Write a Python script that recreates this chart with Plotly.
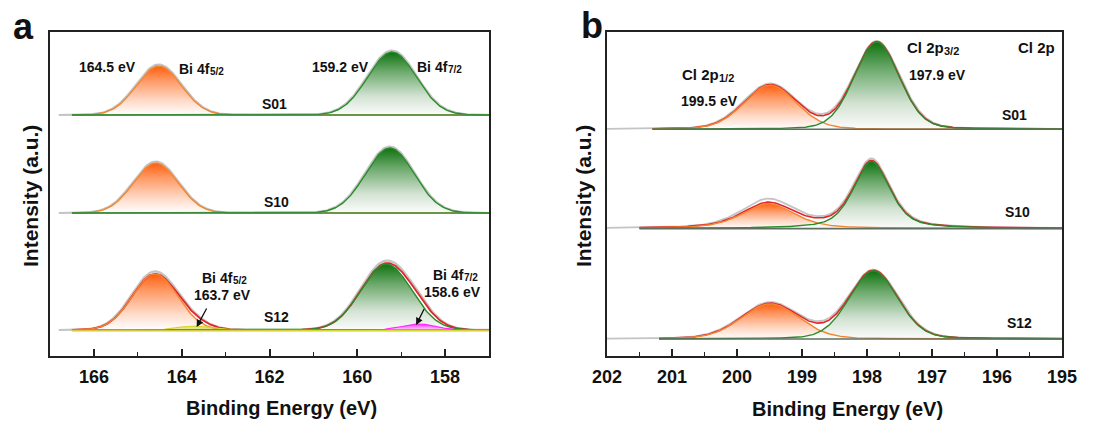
import numpy as np
import plotly.graph_objects as go

# ---------------- data ----------------
# Panel a: Bi 4f
a_samples = ["S01", "S10", "S12"]
a_base = [241, 143, 26]                  # baseline offsets
a_f52_center = [164.52, 164.59, 164.61]
a_f52_height = [49, 50, 56]
a_f52_fwhm = [1.2, 1.2, 1.22]
a_f72_center = [159.21, 159.26, 159.34]
a_f72_height = [63, 65, 66]
a_f72_fwhm = [1.3, 1.3, 1.36]
a_raw_extra = [1.5, 1.5, 2.5]            # raw data above fit at peaks
a_minor_center = [163.7, 158.6]          # S12 minor components
a_minor_height = [4, 6]
a_minor_fwhm = [0.9, 0.9]
a_fit_start = 166.5
a_raw_start = 166.8
a_end = 157.0

# Panel b: Cl 2p
b_samples = ["S01", "S10", "S12"]
b_base = [226, 127, 17]
b_p12_center = [199.49, 199.52, 199.49]
b_p12_height = [44, 25, 35]
b_p12_fwhm = [0.95, 0.95, 1.05]
b_p32_center = [197.85, 197.93, 197.90]
b_p32_height = [87, 67, 68]
b_p32_fwhm = [0.82, 0.66, 0.88]
b_eta = [0.15, 0.5, 0.15]                # lorentzian fraction
b_raw_extra = [1.0, 3.5, 1.0]
b_fit_start = [201.3, 201.5, 201.2]
b_raw_start = 202.0
b_end = 195.0

# ---------------- helpers ----------------
ORANGE_LINE = "#f2852f"
GREEN_LINE = "#2b8a2b"
RED = "#e3262b"
GRAY = "#c4c4c4"
BASE_G = "#3f8f3f"
OR_SCALE = [[0, "rgba(255,255,255,1)"], [0.3, "#ffd9c6"], [0.7, "#ff9a66"], [1, "#ff6010"]]
GR_SCALE = [[0, "rgba(252,252,252,1)"], [0.3, "#d2e2d2"], [0.7, "#6aa86a"], [1, "#0f720f"]]
YE_SCALE = [[0, "rgba(255,255,200,1)"], [1, "#d8d840"]]
MA_SCALE = [[0, "rgba(255,220,255,1)"], [1, "#ff30ff"]]


def pv(x, c, h, w, eta=0.0):
    s = w / 2.3548
    g = np.exp(-0.5 * ((x - c) / s) ** 2)
    l = 1.0 / (1.0 + ((x - c) / (w / 2)) ** 2)
    return h * ((1 - eta) * g + eta * l)


fig = go.Figure()


def line(x, y, color, width, xa, ya):
    fig.add_trace(go.Scatter(x=x, y=y, mode="lines", line=dict(color=color, width=width),
                             xaxis=xa, yaxis=ya, hoverinfo="skip", showlegend=False))


def filled(x, comp, base, scale, xa, ya):
    xp = np.concatenate([x, x[::-1]])
    yp = np.concatenate([base + comp, np.full(len(x), base)])
    fig.add_trace(go.Scatter(x=xp, y=yp, mode="lines", fill="toself", line=dict(width=0),
                             fillgradient=dict(type="vertical", colorscale=scale),
                             xaxis=xa, yaxis=ya, hoverinfo="skip", showlegend=False))


# ---------------- panel a ----------------
for i, s in enumerate(a_samples):
    x = np.linspace(a_fit_start, a_end, 400)
    xr = np.linspace(a_raw_start, a_end, 400)
    b = a_base[i]
    o = pv(x, a_f52_center[i], a_f52_height[i], a_f52_fwhm[i])
    g = pv(x, a_f72_center[i], a_f72_height[i], a_f72_fwhm[i])
    env = o + g
    envr = pv(xr, a_f52_center[i], a_f52_height[i] + a_raw_extra[i], a_f52_fwhm[i] * 1.02) + \
        pv(xr, a_f72_center[i], a_f72_height[i] + a_raw_extra[i], a_f72_fwhm[i] * 1.02)
    minors = []
    if s == "S12":
        minors = [pv(x, a_minor_center[k], a_minor_height[k], a_minor_fwhm[k]) for k in range(2)]
        envr = envr + pv(xr, a_minor_center[0], a_minor_height[0], a_minor_fwhm[0]) + \
            pv(xr, a_minor_center[1], a_minor_height[1], a_minor_fwhm[1])
        env = env + minors[0] + minors[1]
    filled(x, o, b, OR_SCALE, "x", "y")
    filled(x, g, b, GR_SCALE, "x", "y")
    if minors:
        filled(x, minors[0], b, YE_SCALE, "x", "y")
        filled(x, minors[1], b, MA_SCALE, "x", "y")
    line(xr, b + envr, GRAY, 2.2, "x", "y")
    if s == "S12":
        line(x, b + env, RED, 1.8, "x", "y")
    line(x, b + o, ORANGE_LINE, 1.4, "x", "y")
    line(x, b + g, GREEN_LINE, 1.4, "x", "y")
    line(x, np.full(len(x), b), BASE_G, 1.6, "x", "y")
    if minors:
        line(x, b + minors[0], "#d6d630", 1.2, "x", "y")
        line(x, b + minors[1], "#ff2cff", 1.2, "x", "y")
        line(x, np.full(len(x), b - 1.0), "#e6e62a", 1.6, "x", "y")

# ---------------- panel b ----------------
for i, s in enumerate(b_samples):
    x = np.linspace(b_fit_start[i], b_end, 400)
    xr = np.linspace(b_raw_start, b_end, 400)
    b = b_base[i]
    o = pv(x, b_p12_center[i], b_p12_height[i], b_p12_fwhm[i], b_eta[i])
    g = pv(x, b_p32_center[i], b_p32_height[i], b_p32_fwhm[i], b_eta[i])
    env = o + g
    envr = pv(xr, b_p12_center[i], b_p12_height[i] + b_raw_extra[i], b_p12_fwhm[i] * 1.03, b_eta[i]) + \
        pv(xr, b_p32_center[i], b_p32_height[i] + b_raw_extra[i] * 0.5, b_p32_fwhm[i] * 1.03, b_eta[i])
    filled(x, o, b, OR_SCALE, "x2", "y2")
    filled(x, g, b, GR_SCALE, "x2", "y2")
    line(xr, b + envr, GRAY, 1.8, "x2", "y2")
    line(x, b + env, RED, 1.6, "x2", "y2")
    line(x, b + o, ORANGE_LINE, 1.4, "x2", "y2")
    line(x, b + g, GREEN_LINE, 1.4, "x2", "y2")
    line(x, np.full(len(x), b), "#5f6f5f", 1.6, "x2", "y2")

# ---------------- layout ----------------
FONT = "Arial, Liberation Sans, sans-serif"
W, H = 1106, 421
ydom = [1 - 356 / H, 1 - 32 / H]
axis_common = dict(showline=True, linecolor="#222222", linewidth=1.6, mirror=True,
                   showgrid=False, zeroline=False, automargin=False)
fig.update_layout(
    template="none",
    width=W, height=H, margin=dict(l=0, r=0, t=0, b=0, pad=0, autoexpand=False),
    paper_bgcolor="white", plot_bgcolor="white", showlegend=False,
    font=dict(family=FONT, color="#111111"),
    xaxis=dict(domain=[50 / W, 489 / W], range=[167, 157], tickmode="linear", tick0=158, dtick=2,
               ticks="inside", ticklen=7, tickwidth=1.5, tickcolor="#222",
               minor=dict(ticks="inside", ticklen=4, tickwidth=1.3, dtick=1, tick0=157, tickcolor="#222"),
               tickfont=dict(size=18, weight="bold", family=FONT, color="#111"), anchor="y",
               ticklabelstandoff=4, **axis_common),
    yaxis=dict(domain=ydom, range=[0, 324], showticklabels=False, ticks="", anchor="x", **axis_common),
    xaxis2=dict(domain=[607 / W, 1062 / W], range=[202, 195], tickmode="linear", tick0=195, dtick=1,
                ticks="inside", ticklen=7, tickwidth=1.5, tickcolor="#222",
                minor=dict(ticks="inside", ticklen=4, tickwidth=1.3, dtick=0.5, tick0=195, tickcolor="#222"),
                tickfont=dict(size=18, weight="bold", family=FONT, color="#111"), anchor="y2",
                ticklabelstandoff=4, **axis_common),
    yaxis2=dict(domain=ydom, range=[0, 323], showticklabels=False, ticks="", anchor="x2", **axis_common),
)

ann = []


def ptxt(px, py, t, size, angle=0, xanchor="center"):
    ann.append(dict(x=px / W, y=1 - py / H, xref="paper", yref="paper", text="<b>" + t + "</b>",
                    showarrow=False, textangle=angle, xanchor=xanchor, yanchor="middle",
                    font=dict(size=size, family=FONT, color="#111")))


# Arial bold advance widths (per 1000 em) for label layout
AW = {"B": 722, "i": 278, " ": 278, "4": 556, "f": 333, "C": 722, "l": 278, "2": 556, "p": 611}


def width(t, size):
    return sum(AW[c] for c in t) * size / 1000.0


def sublabel(px_left, py, main, sub, size, subsize, drop):
    ptxt(px_left, py, main, size, xanchor="left")
    ptxt(px_left + width(main, size) + 0.5, py + drop, sub, subsize, xanchor="left")


def sub_total(main, size, subsize):
    return width(main, size) + 1.39 * subsize


# panel a text
ptxt(107, 67, "164.5 eV", 14)
sublabel(177, 69, "Bi 4f", "5/2", 14, 10, 2)
ptxt(340, 67, "159.2 eV", 14)
sublabel(415, 67, "Bi 4f", "7/2", 14, 10, 2)
ptxt(274, 104, a_samples[0], 14)
ptxt(276, 202, a_samples[1], 14)
ptxt(276, 317, a_samples[2], 14)
sublabel(222 - sub_total("Bi 4f", 14, 10) / 2, 278, "Bi 4f", "5/2", 14, 10, 2)
ptxt(222, 295, "163.7 eV", 14)
sublabel(453 - sub_total("Bi 4f", 14, 10) / 2, 275, "Bi 4f", "7/2", 14, 10, 2)
ptxt(452, 292, "158.6 eV", 14)

# arrows (data-anchored heads)
ann.append(dict(x=163.66, y=29, xref="x", yref="y", ax=13, ay=-24, showarrow=True,
                arrowhead=2, arrowsize=1.1, arrowwidth=1.3, arrowcolor="#111", text=" ",
                font=dict(size=10)))
ann.append(dict(x=158.66, y=31, xref="x", yref="y", ax=11, ay=-22, showarrow=True,
                arrowhead=2, arrowsize=1.1, arrowwidth=1.3, arrowcolor="#111", text=" ",
                font=dict(size=10)))

# panel b text
sublabel(680, 74, "Cl 2p", "1/2", 15, 11, 4)
ptxt(709, 101, "199.5 eV", 14)
sublabel(905, 47, "Cl 2p", "3/2", 15, 11, 4)
ptxt(907, 75, "197.9 eV", 14, xanchor="left")
ptxt(1057, 47, "Cl 2p", 15, xanchor="right")
ptxt(1014, 115, b_samples[0], 14)
ptxt(1017, 212, b_samples[1], 14)
ptxt(1019, 323, b_samples[2], 14)

ptxt(23, 27, "a", 36)
ptxt(592, 26, "b", 36)
ptxt(30, 196, "Intensity (a.u.)", 21, -90)
ptxt(583, 196, "Intensity (a.u.)", 21, -90)
ptxt(281, 408, "Binding Energy (eV)", 20)
ptxt(847, 409, "Binding Energy (eV)", 20)

fig.update_layout(annotations=ann)
fig.write_html("out.html", config={"displayModeBar": False},
               post_script="document.body.style.margin='0px';document.body.style.padding='0px';")
